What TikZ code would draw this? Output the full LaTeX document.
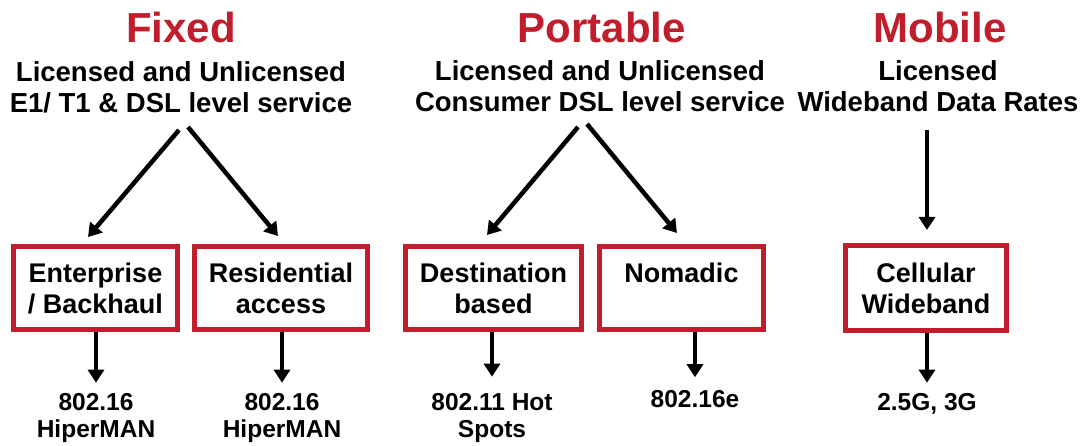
\documentclass[tikz,border=0pt]{standalone}
\usepackage{fontspec}
\setmainfont{Liberation Sans}
\usetikzlibrary{arrows.meta,calc}
\definecolor{wred}{RGB}{192,30,45}
\tikzset{
  heading/.style={anchor=base,inner sep=0pt,text=wred,font=\fontsize{42}{46}\selectfont\bfseries},
  subhead/.style={anchor=base,inner sep=0pt,align=center,font=\fontsize{27.5}{31}\selectfont\bfseries},
  catbox/.style={draw=wred,line width=5pt,inner sep=0pt,align=center,minimum height=83pt,
    font=\fontsize{27}{31}\selectfont\bfseries},
  stdlabel/.style={anchor=base,inner sep=0pt,align=center,font=\fontsize{24.5}{27}\selectfont\bfseries},
  arr/.style={line width=4.5pt,-{Triangle[width=16pt,length=13pt]}}
}
\begin{document}
\begin{tikzpicture}[x=1pt,y=-1pt]
\path[use as bounding box,fill=white] (0,0) rectangle (1085,446);

% column headings (multi-line nodes sit on the baseline of their last line)
\node[heading] (fixT) at (181,43) {Fixed};
\node[heading] (porT) at (602,43) {Portable};
\node[heading] (mobT) at (940,43) {Mobile};

\node[subhead] (fixS) at (181,113) {Licensed and Unlicensed\\E1/ T1 \& DSL level service};
\node[subhead] (porS) at (600,112) {Licensed and Unlicensed\\Consumer DSL level service};
\node[subhead] (mobS) at (938,112) {Licensed\\Wideband Data Rates};

% service categories
\node[catbox,minimum width=164pt] (ent) at (95.5,288) {Enterprise\\/ Backhaul};
\node[catbox,minimum width=173pt] (res) at (281,288) {Residential\\access};
\node[catbox,minimum width=176pt] (dest) at (493.5,288) {Destination\\based};
\node[catbox,minimum width=164pt] (nom) at (681.5,288) {Nomadic\\\mbox{}};
\node[catbox,minimum width=161pt,minimum height=85pt] (cell) at (926,288) {Cellular\\Wideband};

% standards
\node[stdlabel] (s1) at (96,437) {802.16\\HiperMAN};
\node[stdlabel] (s2) at (282,437) {802.16\\HiperMAN};
\node[stdlabel] (s3) at (492,437) {802.11 Hot\\Spots};
\node[stdlabel] (s4) at (695,407) {802.16e};
\node[stdlabel] (s5) at (927,410) {2.5G, 3G};

% arrow origins below the headings
\coordinate (fixL) at (179,130);
\coordinate (fixR) at (188,127);
\coordinate (porL) at (578,127);
\coordinate (porR) at (587,124);
\coordinate (mobC) at (927,130);

\draw[arr] (fixL) -- ($(ent.north)+(-7.5,-7)$);
\draw[arr] (fixR) -- ($(res.north)+(-3,-8)$);
\draw[arr] (porL) -- ($(dest.north)+(-6.5,-9)$);
\draw[arr] (porR) -- ($(nom.north)+(-4.5,-11)$);
\draw[arr] (mobC) -- ($(cell.north)+(1,-13)$);

\draw[arr,shorten >=10pt] (ent.south -| s1.north) -- (s1.north);
\draw[arr,shorten >=10pt] (res.south -| s2.north) -- (s2.north);
\draw[arr,shorten >=16pt] (dest.south -| s3.north) -- (s3.north);
\draw[arr,shorten >=12.5pt] (nom.south -| s4.north) -- (s4.north);
\draw[arr,shorten >=10pt] (cell.south -| s5.north) -- (s5.north);
\end{tikzpicture}
\end{document}
